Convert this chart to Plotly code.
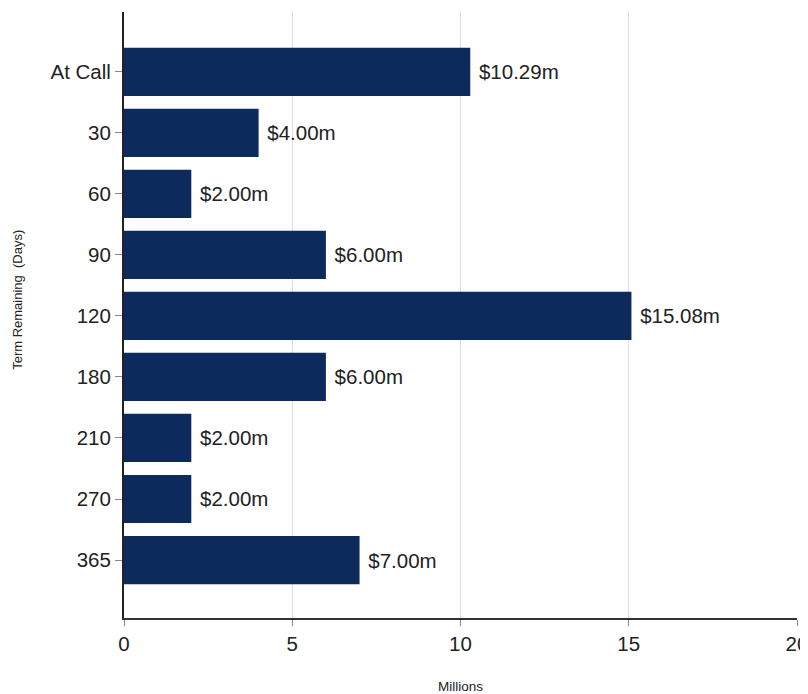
import plotly.graph_objects as go

categories = ["At Call", "30", "60", "90", "120", "180", "210", "270", "365"]
values = [10.29, 4.00, 2.00, 6.00, 15.08, 6.00, 2.00, 2.00, 7.00]
labels = ["\u00a0$%.2fm" % v for v in values]
x_ticks = [0, 5, 10, 15, 20]
y_title = "Term Remaining  (Days)"

FONT = "Liberation Sans, Arial, sans-serif"

fig = go.Figure(go.Bar(
    x=values, y=categories, orientation="h",
    marker=dict(color="#0c2a5c", line=dict(width=0)),
    text=labels, textposition="outside", cliponaxis=False,
    textfont=dict(size=20.5, color="#222222", family=FONT),
    width=0.79,
))

fig.update_layout(
    width=808, height=694,
    margin=dict(l=116, r=19, t=4, b=84, autoexpand=False),
    paper_bgcolor="white", plot_bgcolor="white",
    font=dict(family=FONT, color="#222222"),
    showlegend=False,
)
fig.update_xaxes(
    range=[0, 20], tickvals=x_ticks, ticktext=[str(t) for t in x_ticks],
    showgrid=True, gridcolor="#dddddd", gridwidth=1,
    showline=True, linecolor="#333333", linewidth=2,
    ticks="outside", ticklen=6, tickcolor="#888888",
    tickfont=dict(size=20.5), zeroline=False,
    title=dict(text="Millions", font=dict(size=13.5), standoff=28),
)
fig.update_yaxes(
    type="category", categoryorder="array", categoryarray=categories,
    range=[8.95, -0.98],
    showline=True, linecolor="#222222", linewidth=2,
    ticks="outside", ticklen=7, tickcolor="#888888",
    tickfont=dict(size=20.5), showgrid=False,
)
fig.add_annotation(
    text=y_title, textangle=-90, showarrow=False,
    xref="paper", yref="paper", x=-0.1575, y=0.525,
    xanchor="center", yanchor="middle",
    font=dict(size=13, color="#222222", family=FONT),
)

fig.write_html("out.html")
